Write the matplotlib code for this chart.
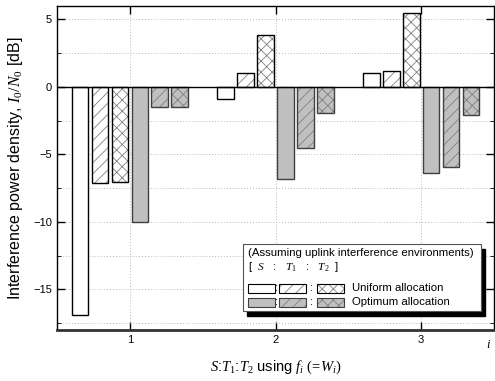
import numpy as np
import matplotlib
matplotlib.use('Agg')
import matplotlib.pyplot as plt
from matplotlib.patches import Rectangle

plt.rcParams['font.family'] = 'Liberation Sans'
plt.rcParams['mathtext.fontset'] = 'custom'
plt.rcParams['mathtext.rm'] = 'Liberation Serif'
plt.rcParams['mathtext.it'] = 'Liberation Serif:italic'
plt.rcParams['hatch.linewidth'] = 0.6

groups = [1, 2, 3]
s_uni = [-16.9, -0.9, 1.0]
t1_uni = [-7.1, 1.0, 1.2]
t2_uni = [-7.05, 3.85, 5.5]
s_opt = [-10.0, -6.85, -6.35]
t1_opt = [-1.5, -4.55, -5.9]
t2_opt = [-1.45, -1.95, -2.05]

series = [s_uni, t1_uni, t2_uni, s_opt, t1_opt, t2_opt]
fills = ['white', 'white', 'white', '#c0c0c0', '#c0c0c0', '#c0c0c0']
hatches = [None, '///', 'xxx', None, '///', 'xxx']
edges = ['black', 'black', 'black', '#404040', '#404040', '#404040']

fig = plt.figure(figsize=(4.95, 3.81), dpi=100)
ax = fig.add_axes([0.1152, 0.1339, 0.8828, 0.8504])

step = 0.137
width = 0.114
x = np.array(groups, dtype=float)
for k, vals in enumerate(series):
    off = (k - 2.5) * step
    ax.bar(x + off, vals, width, color=fills[k], hatch=hatches[k],
           edgecolor='#808080', linewidth=0, zorder=3)
    ax.bar(x + off, vals, width, color='none', edgecolor=edges[k],
           linewidth=1.0, zorder=4)

ax.axhline(0, color='black', lw=1.0, zorder=5)
ax.set_xlim(0.5, 3.5)
ax.set_ylim(-18, 6)
ax.set_xticks(groups)
ax.set_yticks([5, 0, -5, -10, -15])
ax.set_yticks(np.arange(-17.5, 6, 2.5), minor=True)
ax.grid(True, which='both', ls=(0, (1, 2)), color='#b8b8b8', lw=0.7, zorder=0)
ax.tick_params(axis='both', which='major', direction='in', length=6,
               labelsize=8, top=True, right=True, width=1)
ax.tick_params(axis='y', which='minor', direction='in', length=3, right=True)
for sp in ax.spines.values():
    sp.set_linewidth(1.0)
ax.spines['bottom'].set_linewidth(2.0)
ax.spines['bottom'].set_color('#333333')

ax.set_ylabel(r'Interference power density, $I_0/N_0$ [dB]', fontsize=11.5, labelpad=6)
ax.set_xlabel(r'$S$:$T_1$:$T_2$ using $f_i\ (\!=\!W_i)$', fontsize=10.5, labelpad=10)
fig.text(0.982, 0.094, r'$i$', fontsize=9, ha='left', va='center')

# legend box with shadow
tr = ax.transAxes
ax.add_patch(Rectangle((0.4346, 0.0443), 0.5444, 0.2068, transform=tr,
                       facecolor='black', edgecolor='black', zorder=8))
ax.add_patch(Rectangle((0.4256, 0.0586), 0.5444, 0.2068, transform=tr,
                       facecolor='white', edgecolor='#555555', lw=0.8, zorder=9))
ax.text(0.4371, 0.237, '(Assuming uplink interference environments)', transform=tr,
        fontsize=8.2, va='center', zorder=10)
ax.text(0.4371, 0.195, r'[  $S$   :   $T_1$   :   $T_2$  ]', transform=tr,
        fontsize=8.2, va='center', zorder=10)

px = [0.4371, 0.508, 0.595]
pw = 0.062
ph = 0.028
rows = [(0.1287, 'white', 'black', 'Uniform allocation'),
        (0.0855, '#c0c0c0', '#404040', 'Optimum allocation')]
for ry, fc, ec, label in rows:
    for j, h in enumerate([None, '///', 'xxx']):
        ax.add_patch(Rectangle((px[j], ry - ph / 2), pw, ph, transform=tr,
                               facecolor=fc, hatch=h, edgecolor='#808080',
                               lw=0, zorder=10))
        ax.add_patch(Rectangle((px[j], ry - ph / 2), pw, ph, transform=tr,
                               facecolor='none', edgecolor=ec, lw=0.8, zorder=11))
    ax.text(0.5034, ry, ':', transform=tr, fontsize=8.2, va='center', ha='center', zorder=11)
    ax.text(0.5815, ry, ':', transform=tr, fontsize=8.2, va='center', ha='center', zorder=11)
    ax.text(0.675, ry, label, transform=tr, fontsize=8.2, va='center', zorder=11)

fig.savefig('out.png', dpi=100)
